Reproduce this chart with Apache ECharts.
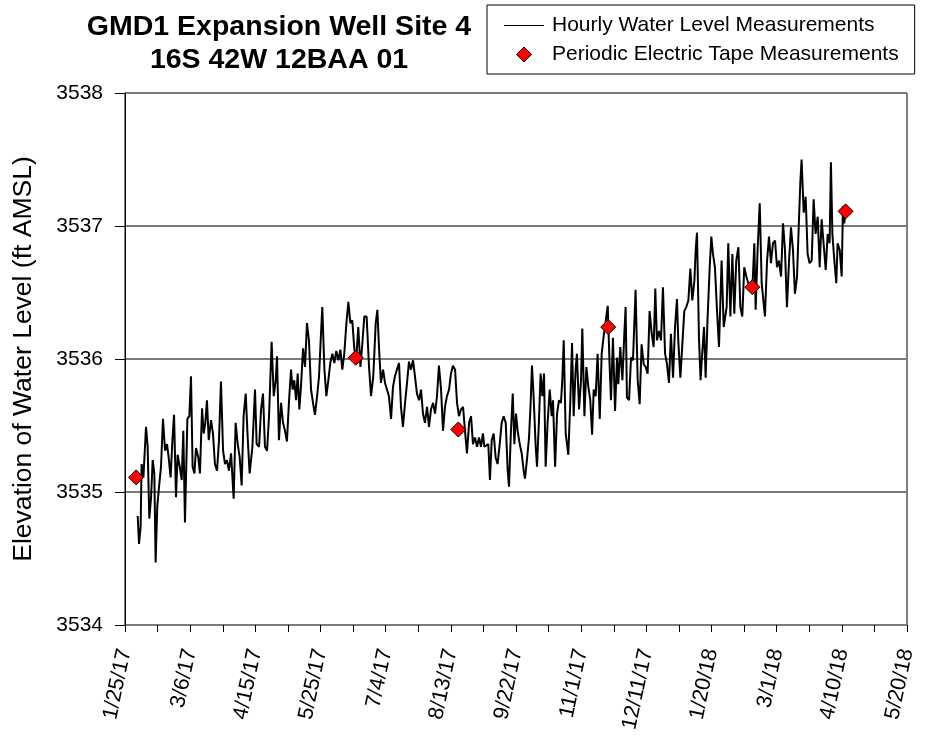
<!DOCTYPE html>
<html>
<head>
<meta charset="utf-8">
<script src="https://cdn.jsdelivr.net/npm/echarts@6/dist/echarts.min.js"></script>
<style>
  html, body { margin: 0; padding: 0; background: #fff; }
  #chart { width: 927px; height: 738px; }
</style>
</head>
<body>
<div id="chart"></div>
<script>
// days counted from 1/25/17
const START = Date.UTC(2017, 0, 25);

// hourly transducer record
const hourlyDays = [
  7.8, 8.6, 9.6, 10.2, 11.3, 12.9, 13.9, 14.9, 16.0, 17.0, 18.0, 18.8, 19.8, 20.9, 22.1, 23.3, 24.6, 25.8, 26.8, 28.0,
  29.1, 30.1, 31.3, 32.3, 33.6, 34.8, 35.8, 36.8, 38.3, 39.5, 40.5, 41.5, 42.6, 43.6, 45.0, 46.0, 47.3, 48.3, 49.3, 50.3,
  51.4, 52.8, 54.0, 55.2, 56.5, 57.7, 58.9, 60.2, 61.4, 62.6, 63.8, 65.1, 66.7, 67.9, 69.2, 70.4, 71.6, 72.8, 74.1, 75.3,
  76.5, 78.2, 79.8, 80.8, 82.3, 83.5, 84.7, 85.9, 87.2, 88.4, 90.0, 91.3, 92.5, 93.3, 94.5, 95.8, 97.0, 98.2, 99.4, 100.7,
  101.9, 102.9, 103.9, 105.0, 106.0, 107.0, 108.0, 109.3, 110.5, 111.7, 112.9, 114.2, 115.4, 116.6, 117.9, 119.1, 120.3, 121.1, 122.4, 123.6,
  124.8, 126.0, 127.3, 128.5, 129.7, 131.0, 132.2, 133.4, 134.6, 135.9, 137.1, 138.3, 139.5, 140.8, 142.0, 143.2, 144.5, 145.7, 146.9, 148.3,
  149.8, 151.0, 152.4, 153.9, 154.9, 155.9, 157.1, 158.4, 159.6, 160.8, 162.0, 163.3, 164.5, 165.7, 166.9, 168.2, 169.4, 170.6, 171.9, 173.1,
  174.3, 175.5, 176.8, 178.0, 179.2, 180.5, 181.7, 182.9, 184.1, 185.4, 186.6, 187.8, 189.1, 190.3, 191.5, 192.7, 194.0, 195.2, 196.4, 197.6,
  198.9, 200.1, 201.3, 202.6, 203.8, 205.0, 206.2, 207.5, 208.7, 209.9, 211.2, 212.4, 213.6, 214.8, 216.1, 217.3, 218.5, 219.7, 220.6, 221.6,
  223.0, 224.0, 225.1, 226.3, 227.5, 228.7, 230.0, 231.2, 232.4, 233.7, 234.9, 235.7, 236.9, 238.0, 239.0, 240.0, 241.0, 242.3, 243.5, 244.7,
  245.5, 246.7, 248.0, 249.0, 249.8, 250.8, 252.1, 252.9, 254.1, 255.1, 256.2, 257.2, 258.2, 259.4, 260.7, 261.9, 262.7, 264.0, 265.2, 266.4,
  267.6, 268.4, 269.3, 270.5, 272.1, 273.3, 274.4, 275.4, 276.6, 277.4, 278.7, 279.9, 280.7, 282.0, 283.2, 284.4, 285.6, 286.7, 287.7, 288.9,
  290.1, 291.4, 292.6, 293.8, 296.3, 297.5, 298.3, 299.5, 300.8, 302.0, 302.8, 304.0, 305.3, 306.5, 307.3, 308.1, 309.4, 310.6, 311.8, 313.4,
  314.7, 315.9, 317.1, 318.4, 319.6, 320.8, 322.0, 323.3, 324.5, 325.5, 326.5, 327.8, 329.0, 330.2, 331.5, 332.7, 333.9, 335.1, 336.4, 337.6,
  338.8, 339.6, 340.9, 342.1, 343.3, 344.5, 345.8, 347.0, 348.2, 349.5, 350.3, 351.1, 352.3, 353.3, 354.4, 355.4, 356.4, 357.6, 358.9, 359.9,
  360.9, 362.1, 363.4, 364.6, 366.2, 367.5, 369.3, 370.3, 371.6, 372.8, 374.0, 375.2, 376.5, 377.7, 378.9, 380.1, 381.4, 382.6, 383.8, 385.1,
  386.3, 387.1, 388.3, 389.6, 390.8, 392.0, 392.8, 394.1, 395.3, 396.5, 397.7, 399.0, 400.2, 401.4, 402.7, 403.9, 405.1, 406.3, 407.6, 408.8,
  410.0, 411.2, 412.5, 413.7, 414.5, 415.3, 416.6, 417.8, 419.0, 420.2, 421.5, 422.7, 423.9, 425.2, 426.4, 427.6, 428.8, 430.1, 431.3, 432.5,
  433.3, 434.2, 435.4, 436.6, 437.4, 438.7, 439.9, 440.7, 441.5, 442.3
];
const hourlyLevels = [
  3534.82, 3534.61, 3534.74, 3535.21, 3535.11, 3535.49, 3535.34, 3534.80, 3534.96, 3535.24, 3535.14, 3534.47, 3534.89, 3535.04, 3535.19, 3535.55, 3535.31, 3535.36, 3535.26, 3535.11,
  3535.39, 3535.58, 3534.96, 3535.28, 3535.19, 3535.09, 3535.46, 3534.77, 3535.55, 3535.57, 3535.87, 3535.19, 3535.14, 3535.33, 3535.26, 3535.14, 3535.63, 3535.44, 3535.52, 3535.69,
  3535.39, 3535.54, 3535.44, 3535.21, 3535.16, 3535.39, 3535.83, 3535.31, 3535.21, 3535.24, 3535.16, 3535.29, 3534.95, 3535.52, 3535.36, 3535.26, 3535.05, 3535.57, 3535.74, 3535.41,
  3535.14, 3535.34, 3535.77, 3535.36, 3535.34, 3535.62, 3535.74, 3535.34, 3535.31, 3535.57, 3536.13, 3535.72, 3535.84, 3536.02, 3535.39, 3535.67, 3535.52, 3535.46, 3535.38, 3535.69,
  3535.92, 3535.77, 3535.84, 3535.69, 3535.89, 3535.62, 3535.79, 3536.08, 3535.94, 3536.27, 3536.14, 3535.77, 3535.67, 3535.58, 3535.72, 3535.87, 3536.19, 3536.39, 3535.92, 3535.72,
  3535.84, 3535.97, 3536.04, 3535.97, 3536.06, 3535.99, 3536.07, 3535.92, 3536.04, 3536.27, 3536.43, 3536.27, 3536.29, 3536.07, 3536.02, 3536.24, 3535.94, 3536.12, 3536.32, 3536.32,
  3535.94, 3535.72, 3535.87, 3536.27, 3536.37, 3536.09, 3535.82, 3535.92, 3535.82, 3535.77, 3535.72, 3535.55, 3535.79, 3535.87, 3535.92, 3535.97, 3535.64, 3535.49, 3535.67, 3535.82,
  3535.98, 3535.92, 3535.99, 3535.87, 3535.74, 3535.69, 3535.77, 3535.59, 3535.52, 3535.64, 3535.49, 3535.62, 3535.67, 3535.59, 3535.72, 3535.95, 3535.77, 3535.46, 3535.64, 3535.72,
  3535.77, 3535.89, 3535.95, 3535.92, 3535.67, 3535.57, 3535.62, 3535.64, 3535.46, 3535.29, 3535.52, 3535.57, 3535.36, 3535.41, 3535.34, 3535.41, 3535.34, 3535.44, 3535.34, 3535.34,
  3535.36, 3535.09, 3535.39, 3535.44, 3535.26, 3535.21, 3535.36, 3535.52, 3535.57, 3535.52, 3535.16, 3535.04, 3535.46, 3535.74, 3535.36, 3535.59, 3535.46, 3535.36, 3535.29, 3535.16,
  3535.10, 3535.24, 3535.41, 3535.67, 3535.95, 3535.72, 3535.34, 3535.19, 3535.54, 3535.89, 3535.72, 3535.89, 3535.19, 3535.52, 3535.77, 3535.57, 3535.69, 3535.19, 3535.59, 3535.69,
  3535.67, 3535.84, 3536.14, 3535.44, 3535.28, 3535.67, 3536.12, 3535.57, 3535.92, 3536.04, 3535.62, 3535.84, 3536.23, 3535.57, 3535.94, 3535.79, 3535.69, 3535.43, 3535.77, 3535.72,
  3536.04, 3535.55, 3536.04, 3536.17, 3536.40, 3535.94, 3535.69, 3536.16, 3535.61, 3536.01, 3535.81, 3536.09, 3535.84, 3536.19, 3536.39, 3535.71, 3535.69, 3536.01, 3535.99, 3536.52,
  3535.84, 3535.66, 3536.11, 3535.96, 3535.94, 3535.89, 3536.36, 3536.19, 3536.09, 3536.53, 3536.14, 3536.21, 3536.14, 3536.54, 3536.04, 3535.96, 3535.82, 3536.19, 3535.86, 3536.24,
  3536.45, 3536.14, 3535.86, 3536.11, 3536.36, 3536.39, 3536.44, 3536.68, 3536.44, 3536.59, 3536.82, 3536.95, 3536.16, 3535.84, 3536.06, 3536.24, 3535.86, 3536.31, 3536.69, 3536.92,
  3536.79, 3536.69, 3536.36, 3536.09, 3536.74, 3536.24, 3536.39, 3536.87, 3536.32, 3536.79, 3536.34, 3536.74, 3536.84, 3536.39, 3536.32, 3536.69, 3536.62, 3536.57, 3536.52, 3536.54,
  3536.87, 3536.37, 3536.82, 3537.17, 3536.57, 3536.42, 3536.32, 3536.74, 3536.92, 3536.72, 3536.87, 3536.89, 3536.69, 3536.74, 3536.62, 3537.02, 3536.82, 3536.39, 3536.74, 3536.99,
  3536.82, 3536.49, 3536.62, 3537.05, 3537.32, 3537.50, 3537.10, 3537.22, 3536.79, 3536.72, 3536.74, 3537.20, 3536.94, 3537.07, 3536.69, 3537.05, 3536.87, 3536.67, 3536.94, 3536.87,
  3537.48, 3536.94, 3536.74, 3536.57, 3536.87, 3536.82, 3536.62, 3537.15, 3537.02, 3537.12
];

// electric tape readings
const tapeDays = [6.8, 141.6, 204.6, 296.6, 385.1, 442.3];
const tapeLevels = [3535.11, 3536.01, 3535.47, 3536.24, 3536.54, 3537.11];

const chart = echarts.init(document.getElementById('chart'));

const fmtDate = (v) => {
  const d = new Date(START + v * 86400000);
  return (d.getUTCMonth() + 1) + '/' + d.getUTCDate() + '/' + String(d.getUTCFullYear()).slice(2);
};

const option = {
  animation: false,
  textStyle: { fontFamily: 'Liberation Sans, Arial, sans-serif', color: '#000' },
  title: {
    text: 'GMD1 Expansion Well Site 4\n16S 42W 12BAA 01',
    left: 274,
    top: 6,
    textAlign: 'center',
    textStyle: { fontSize: 28.5, fontWeight: 'bold', lineHeight: 33, color: '#000' },
  },
  legend: {
    left: 487,
    top: 5,
    orient: 'vertical',
    borderColor: '#000',
    borderWidth: 1,
    borderRadius: 0,
    padding: [10, 16, 9, 17],
    itemGap: 8,
    itemWidth: 40,
    itemHeight: 15,
    symbolKeepAspect: true,
    textStyle: { fontSize: 21, color: '#000', padding: [0, 0, 0, 3] },
    data: [
      {
        name: 'Hourly Water Level Measurements',
        icon: 'path://M0,0H40V1.2H0Z',
        itemStyle: { color: '#000', borderWidth: 0 },
      },
      {
        name: 'Periodic Electric Tape Measurements',
        icon: 'path://M7,0L14,7L7,14L0,7Z',
        itemStyle: { color: '#ff0000', borderColor: '#000', borderWidth: 1 },
      },
    ],
  },
  grid: {
    left: 125,
    right: 20,
    top: 93,
    bottom: 113,
    show: true,
    borderColor: '#000',
    borderWidth: 1,
  },
  xAxis: {
    type: 'value',
    min: 0,
    max: 480,
    interval: 40,
    axisLine: { show: false },
    axisTick: { show: true, length: 7, lineStyle: { color: '#000', width: 1 } },
    minorTick: { show: true, splitNumber: 2, length: 7, lineStyle: { color: '#000', width: 1 } },
    splitLine: { show: false },
    axisLabel: {
      rotate: 78,
      fontSize: 21.5,
      margin: 24,
      padding: [26, 0, 0, 0],
      color: '#000',
      formatter: fmtDate,
    },
  },
  yAxis: {
    type: 'value',
    min: 3534,
    max: 3538,
    interval: 1,
    name: 'Elevation of Water Level (ft AMSL)',
    nameLocation: 'middle',
    nameGap: 88,
    nameTextStyle: { fontSize: 26.5, color: '#000' },
    axisLine: { show: true, lineStyle: { color: '#000', width: 1 } },
    axisTick: { show: true, length: 10, lineStyle: { color: '#000' } },
    splitLine: { show: true, lineStyle: { color: '#7a7a7a', width: 2 } },
    axisLabel: { fontSize: 21, margin: 22, color: '#000', formatter: (v) => String(v) },
  },
  series: [
    {
      name: 'Hourly Water Level Measurements',
      type: 'line',
      symbol: 'none',
      data: hourlyDays.map((d, i) => [d, hourlyLevels[i]]),
      lineStyle: { color: '#000', width: 2 },
      itemStyle: { color: '#000' },
      z: 2,
    },
    {
      name: 'Periodic Electric Tape Measurements',
      type: 'scatter',
      symbol: 'diamond',
      symbolSize: 15,
      data: tapeDays.map((d, i) => [d, tapeLevels[i]]),
      itemStyle: { color: '#ff0000', borderColor: '#000', borderWidth: 1, opacity: 1 },
      z: 3,
    },
  ],
};

chart.setOption(option);
</script>
</body>
</html>
